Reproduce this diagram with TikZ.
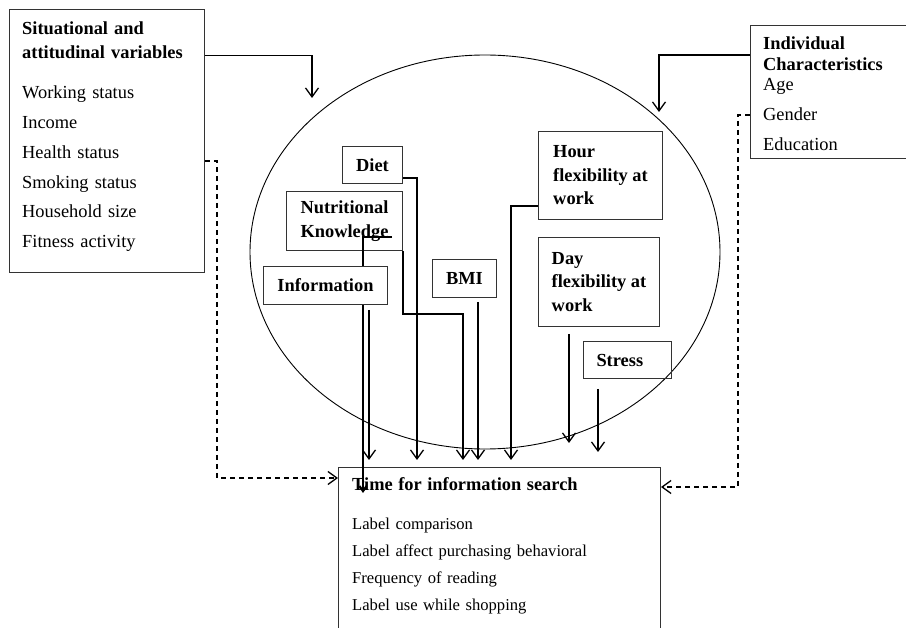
\documentclass[tikz,border=0pt]{standalone}
\usepackage{fontspec}
\setmainfont{Liberation Serif}
\usetikzlibrary{arrows.meta}

\begin{document}
\begin{tikzpicture}[x=1pt, y=-1pt,
  frame/.style={draw=black!80, line width=1pt, anchor=north west},
  inbox/.style={draw=black!80, line width=1pt, anchor=north west, align=left,
    inner sep=2pt, font=\bfseries\fontsize{18.4}{23.5}\selectfont},
  txt/.style={anchor=base west, align=left, inner sep=0pt, font=\fontsize{18.4}{20.5}\selectfont},
  arr/.style={line width=1.3pt, -{Straight Barb[length=9pt,width=13pt]}},
  dasharr/.style={line width=1.3pt, dash pattern=on 5pt off 4pt, -{Straight Barb[length=9pt,width=13pt]}}]
  \useasboundingbox (0,0) rectangle (906,628);
  % outer boxes
  \node[frame, minimum width=195pt, minimum height=262.5pt] (sitbox) at (9,9.5) {};
  \node[txt, text width=180pt] (sittext) at ([shift={(13,24.8)}]sitbox.north west)
    {\textbf{Situational and}\\[3.5pt]\textbf{attitudinal variables}\\[20.2pt]
     Working status\\[9.2pt]Income\\[9.2pt]Health status\\[9.2pt]Smoking status\\[9.2pt]Household size\\[9.2pt]Fitness activity};
  \node[frame, minimum width=170pt, minimum height=133pt] (indbox) at (750,25) {};
  \node[txt, text width=150pt] (indtext) at ([shift={(13,25)}]indbox.north west)
    {\textbf{Individual}\\\textbf{Characteristics}\\Age\\[9pt]Gender\\[9.5pt]Education};
  \node[frame, minimum width=322pt, minimum height=200pt] (timebox) at (338,467) {};
  \node[txt, text width=300pt, font=\fontsize{16.6}{27}\selectfont] (timetext) at ([shift={(14,24)}]timebox.north west)
    {{\fontsize{18.4}{27}\selectfont\bfseries Time for information search}\\[12pt]Label comparison\\Label affect purchasing behavioral\\Frequency of reading\\Label use while shopping};
  % the big ellipse
  \draw[line width=0.9pt] (485,252) ellipse [x radius=235pt, y radius=197pt];
  % factors inside
  \node[inbox, minimum width=60pt, minimum height=37pt] (diet) at (342,146) {Diet};
  \node[inbox, minimum width=116pt, minimum height=59pt] (nutr) at (286,191) {Nutritional\\Knowledge};
  \node[inbox, minimum width=64pt, minimum height=38pt] (bmi) at (432,259) {BMI};
  \node[inbox, minimum width=124pt, minimum height=88pt] (hour) at (538,131) {Hour\\flexibility at\\work};
  \node[inbox, minimum width=121pt, minimum height=89pt] (day) at (538,237) {Day\\flexibility at\\work};
  \node[inbox, inner xsep=13pt, text width=62pt, minimum height=37pt] (stress) at (583,341) {Stress};
  \draw[line width=2.2pt, -{Straight Barb[length=5pt,width=7pt]}] ([shift={(106,-14)}]nutr.south west)
    -- ([shift={(77,-14)}]nutr.south west) -- ([shift={(25,26)}]timebox.north west);
  \node[inbox, fill=white, minimum width=124pt, minimum height=38pt] (info) at (263,266) {Information};
  % connectors
  \coordinate (sitin) at (312,98);
  \coordinate (indin) at (659,112);
  \draw[arr] ([yshift=-46pt]sitbox.north east) -| (sitin);
  \draw[arr] ([yshift=-30pt]indbox.north west) -| (indin);
  \draw[dasharr] ([yshift=-151.5pt]sitbox.north east) -- ++(12,0) |- ([yshift=-11pt]timebox.north west);
  \draw[dasharr] ([yshift=-90pt]indbox.north west) -- ++(-12,0) |- ([yshift=-20pt]timebox.north east);
  \draw[arr] ([yshift=6pt]diet.south east) -| ([shift={(79,-7)}]timebox.north west);
  \draw[arr] (nutr.south east) -- ++(0,63) -| ([shift={(125,-7)}]timebox.north west);
  \draw[arr] ([shift={(106,5)}]info.south west) -- ([shift={(31,-7)}]timebox.north west);
  \draw[arr] ([shift={(46,4)}]bmi.south west) -- ([shift={(140,-7)}]timebox.north west);
  \draw[arr] ([yshift=14pt]hour.south west) -| ([shift={(173,-7)}]timebox.north west);
  \draw[arr] ([shift={(31,7)}]day.south west) -- ([shift={(231,-24)}]timebox.north west);
  \draw[arr] ([shift={(15,10)}]stress.south west) -- ([shift={(260,-15)}]timebox.north west);
\end{tikzpicture}
\end{document}
